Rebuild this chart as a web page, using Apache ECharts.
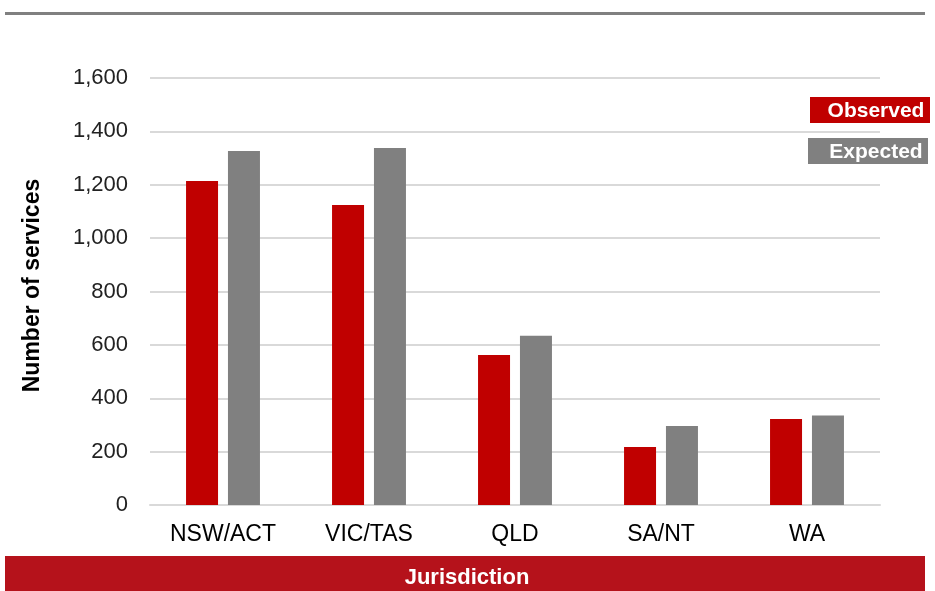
<!DOCTYPE html>
<html>
<head>
<meta charset="utf-8">
<script src="https://cdn.jsdelivr.net/npm/echarts@6/dist/echarts.min.js"></script>
<style>html,body{margin:0;padding:0;background:#fff}#c{width:935px;height:591px}</style>
</head>
<body>
<div id="c"></div>
<script>
const categories = ['NSW/ACT', 'VIC/TAS', 'QLD', 'SA/NT', 'WA'];
const observed = [1214, 1124, 562, 217, 322];
const expected = [1326, 1338, 634, 296, 335];
const yTicks = [0, 200, 400, 600, 800, 1000, 1200, 1400, 1600];
const seriesNames = ['Observed', 'Expected'];
const xTitle = 'Jurisdiction';
const yTitle = 'Number of services';

const FONT = '"Liberation Sans", Arial, sans-serif';
const chart = echarts.init(document.getElementById('c'));
chart.setOption({
  animation: false,
  textStyle: { fontFamily: FONT },
  grid: { left: 150, right: 55, top: 78, bottom: 86 },
  xAxis: {
    type: 'category',
    data: categories,
    axisLine: { lineStyle: { color: '#d9d9d9', width: 2 } },
    axisTick: { show: false },
    axisLabel: { color: '#000', fontSize: 23, margin: 18, fontFamily: FONT }
  },
  yAxis: {
    type: 'value',
    min: yTicks[0],
    max: yTicks[yTicks.length - 1],
    interval: 200,
    name: yTitle,
    nameLocation: 'middle',
    nameGap: 106,
    nameTextStyle: { color: '#000', fontSize: 23, fontWeight: 'bold', fontFamily: FONT, padding: [0, 0, 0, 12] },
    axisLine: { show: false },
    axisTick: { show: false },
    splitLine: { lineStyle: { color: '#d9d9d9', width: 2 } },
    axisLabel: {
      color: '#222', fontSize: 22, margin: 22, fontFamily: FONT,
      formatter: v => v.toLocaleString('en-US')
    }
  },
  series: [
    { name: seriesNames[0], type: 'bar', data: observed, barWidth: 32, barGap: '31%',
      itemStyle: { color: '#C00000' } },
    { name: seriesNames[1], type: 'bar', data: expected, barWidth: 32,
      itemStyle: { color: '#808080' } }
  ],
  graphic: [
    { type: 'rect', shape: { x: 5, y: 12, width: 920, height: 3 }, style: { fill: '#808080' } },
    { type: 'rect', shape: { x: 5, y: 556, width: 920, height: 35 }, style: { fill: '#B5121B' } },
    { type: 'text', x: 467, y: 578,
      style: { text: xTitle, fill: '#fff', font: 'bold 22px ' + FONT, align: 'center', verticalAlign: 'middle' } },
    { type: 'rect', shape: { x: 810, y: 97, width: 120, height: 26 }, style: { fill: '#C00000' } },
    { type: 'text', x: 876, y: 111,
      style: { text: seriesNames[0], fill: '#fff', font: 'bold 21px ' + FONT, align: 'center', verticalAlign: 'middle' } },
    { type: 'rect', shape: { x: 808, y: 138, width: 120, height: 26 }, style: { fill: '#808080' } },
    { type: 'text', x: 876, y: 152,
      style: { text: seriesNames[1], fill: '#fff', font: 'bold 21px ' + FONT, align: 'center', verticalAlign: 'middle' } }
  ]
});
</script>
</body>
</html>
